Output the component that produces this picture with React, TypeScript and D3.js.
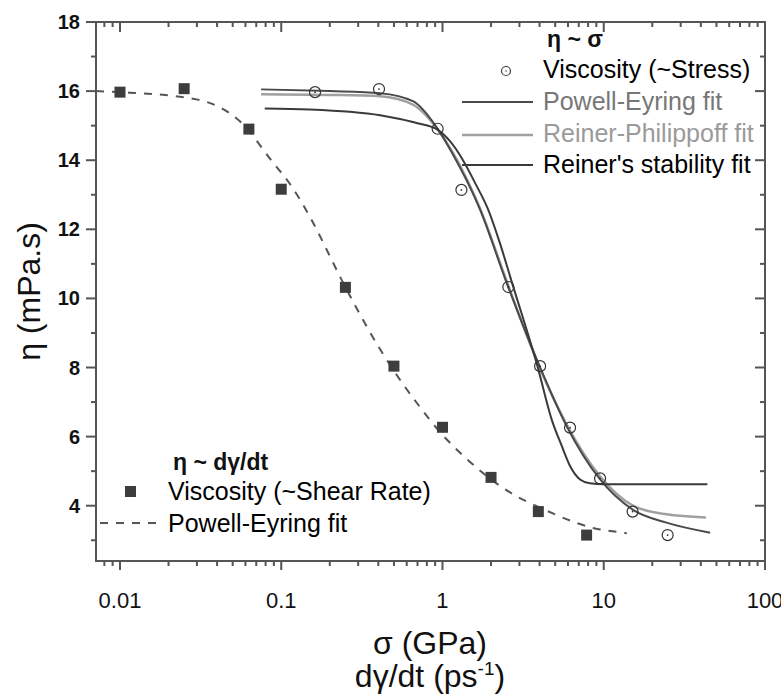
import React from "react";
import * as d3 from "d3";

// ---- data ----
const shearRate = [0.01, 0.025, 0.063, 0.1, 0.25, 0.5, 1.0, 2.0, 3.93, 7.83];
const shearEta = [15.97, 16.07, 14.9, 13.16, 10.32, 8.04, 6.27, 4.82, 3.83, 3.15];

const stress = [0.162, 0.404, 0.933, 1.31, 2.56, 4.03, 6.18, 9.49, 15.1, 24.9];
const stressEta = [15.97, 16.06, 14.91, 13.14, 10.33, 8.04, 6.26, 4.79, 3.83, 3.15];

// Powell-Eyring fit (shear rate), dashed
const peShearX = [0.0071, 0.01, 0.0284, 0.057, 0.0893, 0.111, 0.154, 0.198, 0.228, 0.294, 0.405, 0.571, 0.692, 1.0, 1.35, 2.28, 4.99, 6.7, 8.7, 11.0, 13.9];
const peShearY = [16.0, 15.97, 15.78, 15.07, 13.92, 13.37, 12.28, 11.27, 10.69, 9.71, 8.57, 7.51, 6.98, 6.05, 5.44, 4.57, 3.75, 3.51, 3.35, 3.27, 3.2];

// Powell-Eyring fit (stress)
const peStressX = [0.075, 0.2, 0.41, 0.66, 0.92, 1.15, 1.71, 2.5, 4.0, 5.89, 9.49, 15.2, 24.5, 45.7];
const peStressY = [16.05, 16.0, 15.94, 15.7, 14.95, 14.2, 12.57, 10.45, 8.04, 6.3, 4.76, 3.88, 3.51, 3.22];

// Reiner-Philippoff fit (stress)
const rpStressX = [0.075, 0.2, 0.41, 0.66, 0.92, 1.15, 1.71, 2.5, 4.0, 5.89, 9.49, 15.2, 24.5, 43.0];
const rpStressY = [15.91, 15.89, 15.85, 15.6, 14.93, 14.25, 12.6, 10.5, 8.0, 6.35, 4.85, 4.0, 3.75, 3.66];

// Reiner's stability fit (stress)
const rsStressX = [0.079, 0.15, 0.267, 0.41, 0.545, 0.7, 0.92, 1.113, 1.34, 1.61, 1.92, 2.27, 2.7, 3.88, 4.75, 5.49, 6.18, 7.13, 8.2, 10.0, 43.9];
const rsStressY = [15.5, 15.47, 15.4, 15.3, 15.19, 15.07, 14.9, 14.55, 14.0, 13.3, 12.57, 11.6, 10.45, 8.04, 6.5, 5.73, 5.15, 4.76, 4.65, 4.62, 4.62];

const xMajor = [0.01, 0.1, 1, 10, 100];
const xMajorLabels = ["0.01", "0.1", "1", "10", "100"];
const yMajor = [4, 6, 8, 10, 12, 14, 16, 18];

// ---- layout ----
const W = 781, H = 694;
const L = 96, R = 765, T = 22, B = 561;
const FONT = "'Liberation Sans', Arial, Helvetica, sans-serif";
const AX = "#555";

export default function App() {
  const x = d3.scaleLog().domain([0.0071, 100]).range([L, R]);
  const y = d3.scaleLinear().domain([2.4, 18]).range([B, T]);

  const xMinor: number[] = [];
  [0.001, 0.01, 0.1, 1, 10].forEach((d) => {
    for (let k = 2; k <= 9; k++) {
      const v = d * k;
      if (v >= 0.0071 && v < 100) xMinor.push(v);
    }
  });
  const yMinor = [3, 5, 7, 9, 11, 13, 15, 17];

  const line = d3
    .line<[number, number]>()
    .x((d) => x(d[0]))
    .y((d) => y(d[1]))
    .curve(d3.curveMonotoneX);
  const zip = (a: number[], b: number[]) => a.map((v, i) => [v, b[i]] as [number, number]);

  const legendFont = 25;

  return (
    <svg width={W} height={H} style={{ display: "block", position: "absolute", left: 0, top: 0, background: "#fff" }} fontFamily={FONT}>
      <rect x={0} y={0} width={W} height={H} fill="#fff" />
      <defs>
        <clipPath id="plot">
          <rect x={L} y={T} width={R - L} height={B - T} />
        </clipPath>
      </defs>

      {/* fits */}
      <g clipPath="url(#plot)" fill="none">
        <path d={line(zip(peShearX, peShearY)) || ""} stroke="#555" strokeWidth={2} strokeDasharray="8,8" />
        <path d={line(zip(rpStressX, rpStressY)) || ""} stroke="#a0a0a0" strokeWidth={2.5} />
        <path d={line(zip(peStressX, peStressY)) || ""} stroke="#4a4a4a" strokeWidth={2} />
        <path d={line(zip(rsStressX, rsStressY)) || ""} stroke="#3a3a3a" strokeWidth={2} />
      </g>

      {/* markers */}
      {shearRate.map((v, i) => (
        <rect key={"s" + i} x={x(v) - 5.5} y={y(shearEta[i]) - 5.5} width={11} height={11} fill="#3d3d3d" />
      ))}
      {stress.map((v, i) => (
        <g key={"c" + i}>
          <circle cx={x(v)} cy={y(stressEta[i])} r={5.5} fill="none" stroke="#333" strokeWidth={1.2} />
          <circle cx={x(v)} cy={y(stressEta[i])} r={0.9} fill="#333" />
        </g>
      ))}

      {/* frame */}
      <rect x={L} y={T} width={R - L} height={B - T} fill="none" stroke={AX} strokeWidth={2} />

      {/* x ticks: bottom outward, top inward */}
      {xMajor.map((v) => (
        <g key={"xm" + v}>
          <line x1={x(v)} x2={x(v)} y1={B} y2={B + 9} stroke={AX} strokeWidth={2} />
          <line x1={x(v)} x2={x(v)} y1={T} y2={T + 10} stroke={AX} strokeWidth={2} />
        </g>
      ))}
      {xMinor.map((v) => (
        <g key={"xn" + v}>
          <line x1={x(v)} x2={x(v)} y1={B} y2={B + 5} stroke={AX} strokeWidth={2} />
          <line x1={x(v)} x2={x(v)} y1={T} y2={T + 5} stroke={AX} strokeWidth={2} />
        </g>
      ))}
      {xMajor.map((v, i) => (
        <text key={"xl" + v} x={x(v)} y={608} textAnchor="middle" fontSize={22} fill="#111">
          {xMajorLabels[i]}
        </text>
      ))}

      {/* y ticks: left outward, right inward */}
      {yMajor.map((v) => (
        <g key={"ym" + v}>
          <line x1={L - 10} x2={L} y1={y(v)} y2={y(v)} stroke={AX} strokeWidth={2} />
          <line x1={R - 10} x2={R} y1={y(v)} y2={y(v)} stroke={AX} strokeWidth={2} />
        </g>
      ))}
      {yMinor.map((v) => (
        <g key={"yn" + v}>
          <line x1={L - 5} x2={L} y1={y(v)} y2={y(v)} stroke={AX} strokeWidth={2} />
          <line x1={R - 5} x2={R} y1={y(v)} y2={y(v)} stroke={AX} strokeWidth={2} />
        </g>
      ))}
      {yMajor.map((v) => (
        <text key={"yl" + v} x={80} y={y(v) + 7} textAnchor="end" fontSize={20} fontWeight="bold" fill="#111">
          {v}
        </text>
      ))}

      {/* axis titles */}
      <text transform={`translate(40,${(T + B) / 2}) rotate(-90)`} textAnchor="middle" fontSize={32} fill="#111">
        η (mPa.s)
      </text>
      <text x={430} y={654} textAnchor="middle" fontSize={32} fill="#111">
        σ (GPa)
      </text>
      <text x={430} y={687} textAnchor="middle" fontSize={32} fill="#111">
        dγ/dt (ps<tspan dy={-12} fontSize={19}>-1</tspan><tspan dy={12}>)</tspan>
      </text>

      {/* top-right legend */}
      <text x={547} y={47} fontSize={23} fontWeight="bold" fill="#111">η ~ σ</text>
      <circle cx={506} cy={71} r={4.5} fill="none" stroke="#444" strokeWidth={1.2} />
      <circle cx={506} cy={71} r={0.8} fill="#444" />
      <text x={543} y={78} fontSize={legendFont} fill="#000">Viscosity (~Stress)</text>
      <line x1={462} x2={533} y1={102} y2={102} stroke="#4a4a4a" strokeWidth={2} />
      <text x={543} y={110} fontSize={legendFont} fill="#777">Powell-Eyring fit</text>
      <line x1={462} x2={533} y1={135} y2={135} stroke="#a0a0a0" strokeWidth={2.5} />
      <text x={543} y={142} fontSize={legendFont} fill="#9a9a9a">Reiner-Philippoff fit</text>
      <line x1={462} x2={533} y1={165} y2={165} stroke="#3a3a3a" strokeWidth={2} />
      <text x={543} y={173} fontSize={legendFont} fill="#000">Reiner's stability fit</text>

      {/* bottom-left legend */}
      <text x={173} y={470} fontSize={23} fontWeight="bold" fill="#111">η ~ dγ/dt</text>
      <rect x={125} y={486} width={11} height={11} fill="#3d3d3d" />
      <text x={168} y={500} fontSize={legendFont} fill="#000">Viscosity (~Shear Rate)</text>
      <line x1={100} x2={160} y1={523} y2={523} stroke="#555" strokeWidth={2} strokeDasharray="8,8" />
      <text x={168} y={532} fontSize={legendFont} fill="#000">Powell-Eyring fit</text>
    </svg>
  );
}
